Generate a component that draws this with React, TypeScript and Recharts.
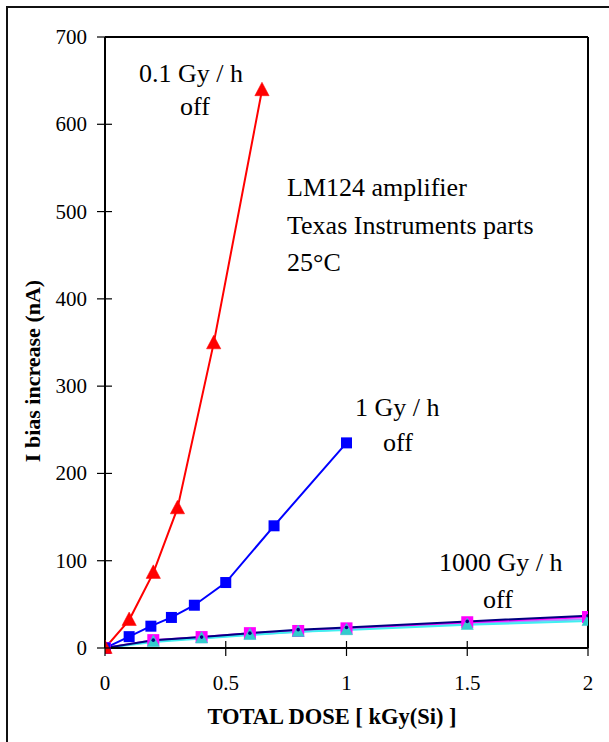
import React from 'react';
import { LineChart, Line, XAxis, YAxis, ReferenceLine } from 'recharts';

// 0.1 Gy/h off
const redX = [0, 0.1, 0.2, 0.3, 0.45, 0.65];
const redY = [0, 32, 86, 160, 349, 639];
// 1 Gy/h off
const blueX = [0, 0.1, 0.19, 0.275, 0.37, 0.5, 0.7, 1.0];
const blueY = [0, 13, 25, 35, 49, 75, 140, 235];
// 1000 Gy/h off (four parts)
const lowX = [0, 0.2, 0.4, 0.6, 0.8, 1.0, 1.5, 2.0];
const navyY = [0, 9, 12.5, 17, 21, 23.5, 30.5, 37];
const magentaY = [0, 9, 12.5, 17, 19.5, 22.5, 29.5, 35.5];
const lavenderY = [0, 8, 11.5, 15.5, 18.5, 21.5, 28, 33];
const cyanY = [0, 7, 11, 15, 18.5, 20.5, 26.5, 31];

const xTicks = [0, 0.5, 1, 1.5, 2];
const yTicks = [0, 100, 200, 300, 400, 500, 600, 700];
const xTickLabels = ['0', '0.5', '1', '1.5', '2'];

const toPts = (xs: number[], ys: number[]) => xs.map((x, i) => ({ x, y: ys[i] }));
const redData = toPts(redX, redY);
const blueData = toPts(blueX, blueY);
const navyData = toPts(lowX, navyY);
const magentaData = toPts(lowX, magentaY);
const lavenderData = toPts(lowX, lavenderY);
const cyanData = toPts(lowX, cyanY);

const FONT = '"Liberation Serif", "Times New Roman", serif';

const triangle = (fill: string, size: number, name: string) => (props: any) => {
  const { cx, cy, index } = props;
  if (cx == null || cy == null) return <g key={`${name}-${index}`} />;
  const h = size;
  return (
    <path
      key={`${name}-${index}`}
      d={`M${cx},${cy - h * 0.62} L${cx + h * 0.55},${cy + h * 0.42} L${cx - h * 0.55},${cy + h * 0.42} Z`}
      fill={fill}
      stroke={fill}
      strokeWidth={0.5}
    />
  );
};

const square = (fill: string, size: number, name: string) => (props: any) => {
  const { cx, cy, index } = props;
  if (cx == null || cy == null) return <g key={`${name}-${index}`} />;
  return (
    <rect
      key={`${name}-${index}`}
      x={cx - size / 2}
      y={cy - size / 2}
      width={size}
      height={size}
      fill={fill}
    />
  );
};

const dotSmall = (fill: string, name: string) => (props: any) => {
  const { cx, cy, index } = props;
  if (cx == null || cy == null) return <g key={`${name}-${index}`} />;
  return <circle key={`${name}-${index}`} cx={cx} cy={cy} r={1.8} fill={fill} />;
};

const XTick = (props: any) => {
  const { x, y, payload } = props;
  return (
    <g>
      <line x1={x} x2={x} y1={y - 7} y2={y + 8} stroke="#000" strokeWidth={1.2} />
      <text x={x} y={y + 42} textAnchor="middle" fontFamily={FONT} fontSize={21} fill="#000">
        {xTickLabels[xTicks.indexOf(payload.value)] ?? String(payload.value)}
      </text>
    </g>
  );
};

const YTick = (props: any) => {
  const { x, y, payload } = props;
  return (
    <g>
      <line x1={x - 8} x2={payload.value === 700 ? x : x + 7} y1={y} y2={y} stroke="#000" strokeWidth={1.2} />
      <text x={x - 18} y={y + 7} textAnchor="end" fontFamily={FONT} fontSize={21} fill="#000">
        {String(payload.value)}
      </text>
    </g>
  );
};

type Ann = { text: string; x: number; y: number };
const annotations: Ann[] = [
  { text: '0.1 Gy / h', x: 139, y: 82 },
  { text: 'off', x: 180, y: 115 },
  { text: 'LM124 amplifier', x: 287, y: 196 },
  { text: 'Texas Instruments parts', x: 287, y: 234 },
  { text: '25°C', x: 287, y: 271 },
  { text: '1 Gy / h', x: 355, y: 416 },
  { text: 'off', x: 383, y: 451 },
  { text: '1000 Gy / h', x: 439, y: 571 },
  { text: 'off', x: 483, y: 608 },
];

export default function App() {
  return (
    <div style={{ position: 'absolute', left: 0, top: 0, width: 609, height: 742, overflow: 'hidden', background: '#fff' }}>
      <div style={{ position: 'absolute', left: 6, top: 6, width: 700, height: 800, border: '2px solid #111' }} />
      <div style={{ position: 'absolute', left: 0, top: 0 }}>
        <LineChart width={609} height={742} margin={{ top: 37, right: 21, left: 45, bottom: 34 }}>
          <XAxis
            type="number"
            dataKey="x"
            domain={[0, 2]}
            ticks={xTicks}
            tick={<XTick />}
            tickSize={0}
            tickMargin={0}
            height={60}
            axisLine={{ stroke: '#000', strokeWidth: 2 }}
            allowDataOverflow
          />
          <YAxis
            type="number"
            dataKey="y"
            domain={[0, 700]}
            ticks={yTicks}
            tick={<YTick />}
            tickSize={0}
            tickMargin={0}
            width={60}
            axisLine={{ stroke: '#000', strokeWidth: 2 }}
          />
          <ReferenceLine y={700} stroke="#000" strokeWidth={2} />
          <ReferenceLine x={2} stroke="#000" strokeWidth={2} />
          <Line data={lavenderData} dataKey="y" stroke="#9999FF" strokeWidth={2} dot={false} isAnimationActive={false} />
          <Line data={magentaData} dataKey="y" stroke="#FF00FF" strokeWidth={2} dot={square('#FF00FF', 12, 'mg')} isAnimationActive={false} />
          <Line data={cyanData} dataKey="y" stroke="#40F0F0" strokeWidth={2} dot={triangle('#33CCCC', 11, 'cy')} isAnimationActive={false} />
          <Line data={navyData} dataKey="y" stroke="#000080" strokeWidth={2} dot={dotSmall('#000080', 'nv')} isAnimationActive={false} />
          <Line data={blueData} dataKey="y" stroke="#0000FF" strokeWidth={2} dot={square('#0000FF', 11, 'bl')} isAnimationActive={false} />
          <Line data={redData} dataKey="y" stroke="#FF0000" strokeWidth={2} dot={triangle('#FF0000', 13, 'rd')} isAnimationActive={false} />
        </LineChart>
      </div>
      <svg width={609} height={742} style={{ position: 'absolute', left: 0, top: 0, pointerEvents: 'none' }}>
        {annotations.map((a) => (
          <text key={`${a.text}-${a.y}`} x={a.x} y={a.y} fontFamily={FONT} fontSize={26} fill="#000">
            {a.text}
          </text>
        ))}
        <text x={332} y={724} textAnchor="middle" fontFamily={FONT} fontSize={22.5} fontWeight="bold" fill="#000">
          TOTAL DOSE [ kGy(Si) ]
        </text>
        <text
          x={0}
          y={0}
          transform="translate(40, 371) rotate(-90)"
          textAnchor="middle"
          fontFamily={FONT}
          fontSize={22}
          fontWeight="bold"
          fill="#000"
        >
          I bias increase (nA)
        </text>
      </svg>
    </div>
  );
}
